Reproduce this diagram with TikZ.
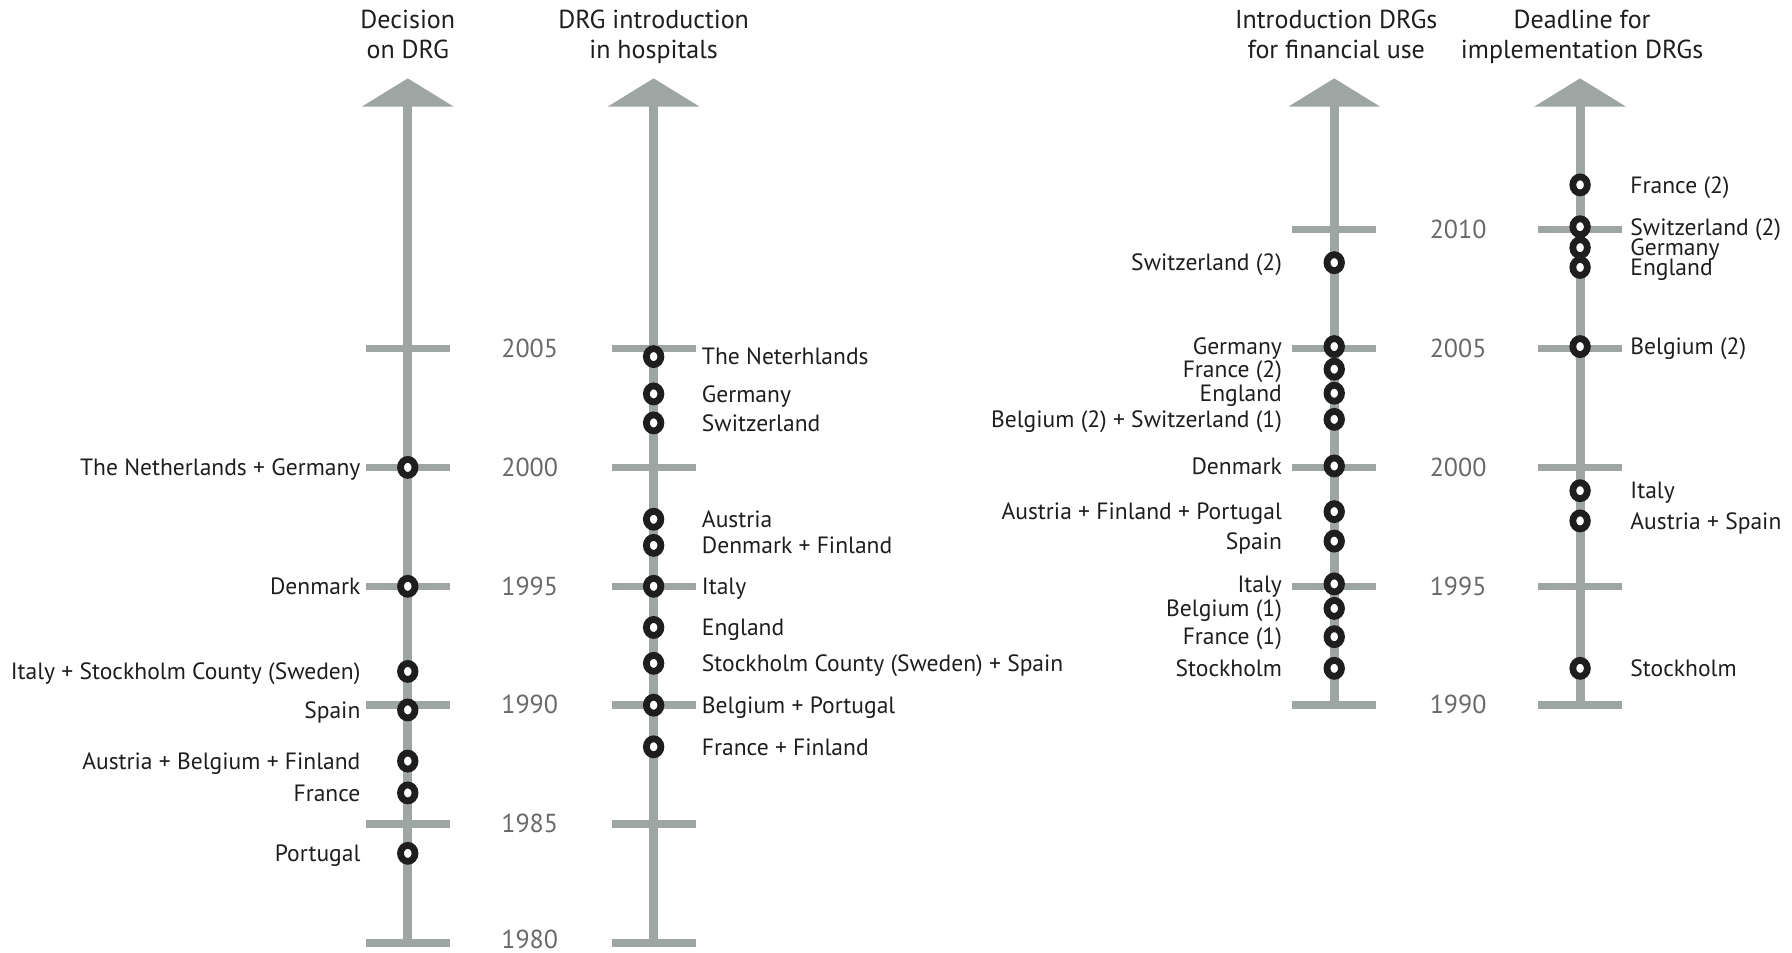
\documentclass[tikz,border=0pt]{standalone}
\usepackage{fontspec}
\setmainfont{PT Sans}
\usetikzlibrary{positioning,shapes.geometric}
\definecolor{axisgray}{RGB}{158,166,163}
\definecolor{yeargray}{RGB}{105,105,105}
\definecolor{ink}{RGB}{30,30,30}
\tikzset{
  axisline/.style={axisgray, line width=0.09cm},
  tickline/.style={axisgray, line width=0.075cm},
  ring/.style={ellipse, draw=ink, fill=white, line width=0.068cm, minimum width=0.145cm, minimum height=0.16cm, inner sep=0pt},
  lbl/.style={font=\fontsize{6.7}{8}\selectfont, text=ink, inner sep=0pt, text height=4.7pt, text depth=0pt},
  headlbl/.style={lbl, font=\fontsize{7.4}{9}\selectfont, text height=5.2pt},
  yearlbl/.style={lbl, font=\fontsize{7.4}{9}\selectfont, text height=5pt, text=yeargray}
}
\begin{document}
\begin{tikzpicture}[x=0.01cm, y=0.2378cm]
\useasboundingbox (0cm,-0.10cm) rectangle (17.92cm,9.43cm);
% the four time lines
\foreach \x/\b in {408/0,654/0,1335/10,1581/10}{
  \draw[axisline] (\x,\b) -- (\x,35.2);
  \fill[axisgray] (\x-46,35.17) -- (\x,36.36) -- (\x+46,35.17) -- cycle;
}
\foreach \x in {408,654} \foreach \y in {0,5,...,25} \draw[tickline] (\x-42,\y) -- (\x+42,\y);
\foreach \x in {1335,1581} \foreach \y in {10,15,...,30} \draw[tickline] (\x-42,\y) -- (\x+42,\y);
\foreach \y/\t in {0.12/1980,5/1985,10/1990,15/1995,20/2000,25/2005} \node[yearlbl] (yl\t) at (530,\y) {\t};
\foreach \y/\t in {10/1990,15/1995,20/2000,25/2005,30/2010} \node[yearlbl] (yr\t) at (1459,\y) {\t};
% headings
\node[headlbl] (hA1) at (408,38.84) {Decision}; \node[headlbl] (hA2) at (408,37.58) {on DRG};
\node[headlbl] (hB1) at (654,38.84) {DRG introduction}; \node[headlbl] (hB2) at (654,37.58) {in hospitals};
\node[headlbl] (hC1) at (1337,38.84) {Introduction DRGs}; \node[headlbl] (hC2) at (1337,37.58) {for financial use};
\node[headlbl] (hD1) at (1583,38.84) {Deadline for}; \node[headlbl] (hD2) at (1583,37.58) {implementation DRGs};
% decision on DRG
\node[ring] (aNG) at (408,20) {}; \node[lbl, left=0.36cm of aNG] (laNG) {The Netherlands + Germany};
\node[ring] (aDK) at (408,15) {}; \node[lbl, left=0.36cm of aDK] (laDK) {Denmark};
\node[ring] (aIS) at (408,11.42) {}; \node[lbl, left=0.36cm of aIS] (laIS) {Italy + Stockholm County (Sweden)};
\node[ring] (aES) at (408,9.8) {}; \node[lbl, left=0.36cm of aES] (laES) {Spain};
\node[ring] (aABF) at (408,7.65) {}; \node[lbl, left=0.36cm of aABF] (laABF) {Austria + Belgium + Finland};
\node[ring] (aFR) at (408,6.31) {}; \node[lbl, left=0.36cm of aFR] (laFR) {France};
\node[ring] (aPT) at (408,3.77) {}; \node[lbl, left=0.36cm of aPT] (laPT) {Portugal};
% DRG introduction in hospitals
\node[ring] (bNL) at (654,24.66) {}; \node[lbl, right=0.37cm of bNL] (lbNL) {The Neterhlands};
\node[ring] (bDE) at (654,23.09) {}; \node[lbl, right=0.37cm of bDE] (lbDE) {Germany};
\node[ring] (bCH) at (654,21.87) {}; \node[lbl, right=0.37cm of bCH] (lbCH) {Switzerland};
\node[ring] (bAT) at (654,17.82) {}; \node[lbl, right=0.37cm of bAT] (lbAT) {Austria};
\node[ring] (bDF) at (654,16.72) {}; \node[lbl, right=0.37cm of bDF] (lbDF) {Denmark + Finland};
\node[ring] (bIT) at (654,15) {}; \node[lbl, right=0.37cm of bIT] (lbIT) {Italy};
\node[ring] (bEN) at (654,13.27) {}; \node[lbl, right=0.37cm of bEN] (lbEN) {England};
\node[ring] (bSS) at (654,11.76) {}; \node[lbl, right=0.37cm of bSS] (lbSS) {Stockholm County (Sweden) + Spain};
\node[ring] (bBP) at (654,10) {}; \node[lbl, right=0.37cm of bBP] (lbBP) {Belgium + Portugal};
\node[ring] (bFF) at (654,8.25) {}; \node[lbl, right=0.37cm of bFF] (lbFF) {France + Finland};
% introduction DRGs for financial use
\node[ring] (cCH2) at (1335,28.61) {}; \node[lbl, left=0.41cm of cCH2] (lcCH2) {Switzerland (2)};
\node[ring] (cDE) at (1335,25.08) {}; \node[lbl, left=0.41cm of cDE] (lcDE) {Germany};
\node[ring] (cFR2) at (1335,24.13) {}; \node[lbl, left=0.41cm of cFR2] (lcFR2) {France (2)};
\node[ring] (cEN) at (1335,23.12) {}; \node[lbl, left=0.41cm of cEN] (lcEN) {England};
\node[ring] (cBS) at (1335,22.02) {}; \node[lbl, left=0.41cm of cBS] (lcBS) {Belgium (2) + Switzerland (1)};
\node[ring] (cDK) at (1335,20.06) {}; \node[lbl, left=0.41cm of cDK] (lcDK) {Denmark};
\node[ring] (cAFP) at (1335,18.14) {}; \node[lbl, left=0.41cm of cAFP] (lcAFP) {Austria + Finland + Portugal};
\node[ring] (cES) at (1335,16.9) {}; \node[lbl, left=0.41cm of cES] (lcES) {Spain};
\node[ring] (cIT) at (1335,15.1) {}; \node[lbl, left=0.41cm of cIT] (lcIT) {Italy};
\node[ring] (cBE1) at (1335,14.07) {}; \node[lbl, left=0.41cm of cBE1] (lcBE1) {Belgium (1)};
\node[ring] (cFR1) at (1335,12.88) {}; \node[lbl, left=0.41cm of cFR1] (lcFR1) {France (1)};
\node[ring] (cST) at (1335,11.55) {}; \node[lbl, left=0.41cm of cST] (lcST) {Stockholm};
% deadline for implementation DRGs
\node[ring] (dFR2) at (1581,31.88) {}; \node[lbl, right=0.39cm of dFR2] (ldFR2) {France (2)};
\node[ring] (dCH2) at (1581,30.12) {}; \node[lbl, right=0.39cm of dCH2] (ldCH2) {Switzerland (2)};
\node[ring] (dDE) at (1581,29.24) {}; \node[lbl, right=0.39cm of dDE] (ldDE) {Germany};
\node[ring] (dEN) at (1581,28.41) {}; \node[lbl, right=0.39cm of dEN] (ldEN) {England};
\node[ring] (dBE2) at (1581,25.08) {}; \node[lbl, right=0.39cm of dBE2] (ldBE2) {Belgium (2)};
\node[ring] (dIT) at (1581,19.02) {}; \node[lbl, right=0.39cm of dIT] (ldIT) {Italy};
\node[ring] (dAS) at (1581,17.75) {}; \node[lbl, right=0.39cm of dAS] (ldAS) {Austria + Spain};
\node[ring] (dST) at (1581,11.55) {}; \node[lbl, right=0.39cm of dST] (ldST) {Stockholm};
\end{tikzpicture}
\end{document}
